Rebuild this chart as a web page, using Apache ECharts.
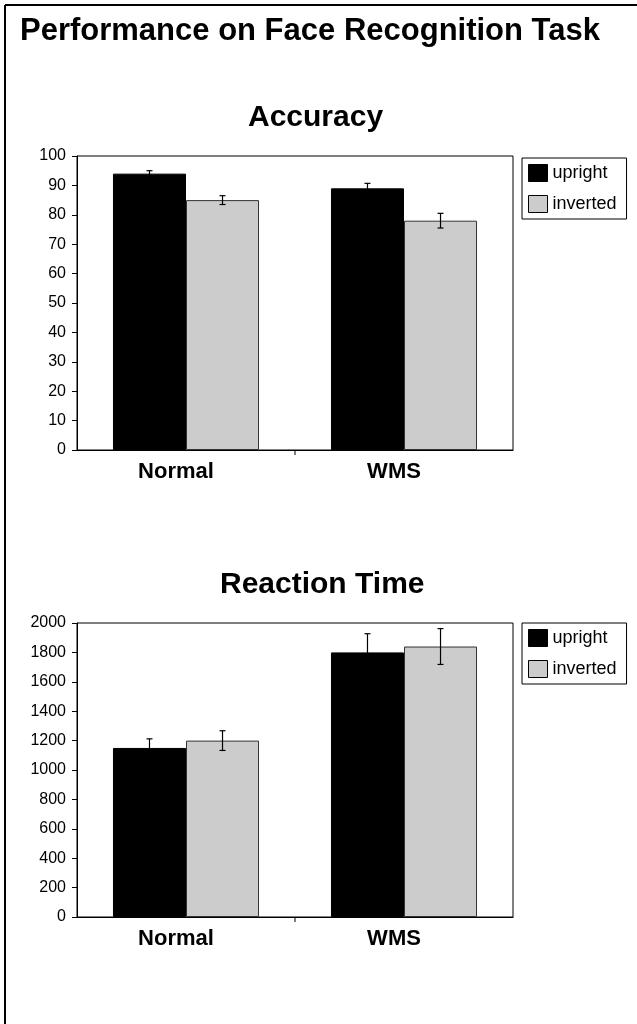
<!DOCTYPE html>
<html>
<head>
<meta charset="utf-8">
<script src="https://cdn.jsdelivr.net/npm/echarts@6/dist/echarts.min.js"></script>
<style>
html,body{margin:0;padding:0;background:#fff;}
#c{width:637px;height:1024px;}
</style>
</head>
<body>
<div id="c"></div>
<script>
const categories = ['Normal', 'WMS'];
const seriesNames = ['upright', 'inverted'];
const accUpright = [94, 89];
const accInverted = [85, 78];
const accUprightErr = [1.0, 1.7];
const accInvertedErr = [1.5, 2.5];
const rtUpright = [1150, 1800];
const rtInverted = [1200, 1840];
const rtUprightErr = [62, 127];
const rtInvertedErr = [67, 122];
const mainTitle = 'Performance on Face Recognition Task';
const chartTitles = ['Accuracy', 'Reaction Time'];

const FONT = '"Liberation Sans", Arial, Helvetica, sans-serif';
const GAP = 0.33;

function errSeries(name, gridIdx, vals, errs, side) {
  return {
    type: 'custom',
    name: name + ' err',
    xAxisIndex: gridIdx, yAxisIndex: gridIdx,
    z: 10,
    silent: true,
    data: vals.map((v, i) => [i, v, errs[i]]),
    encode: {x: 0, y: 1},
    renderItem: function (params, api) {
      const x = api.value(0), v = api.value(1), e = api.value(2);
      const top = api.coord([x, v + e]);
      const bot = api.coord([x, v - e]);
      const bw = api.size([1, 0])[0] * (1 - GAP) / 2;
      const cx = top[0] + side * bw / 2;
      const st = {stroke: '#000', lineWidth: 1.2};
      const h = 3;
      return {type: 'group', children: [
        {type: 'line', shape: {x1: cx, y1: top[1], x2: cx, y2: bot[1]}, style: st},
        {type: 'line', shape: {x1: cx - h, y1: top[1], x2: cx + h, y2: top[1]}, style: st},
        {type: 'line', shape: {x1: cx - h, y1: bot[1], x2: cx + h, y2: bot[1]}, style: st}
      ]};
    }
  };
}

// tick marks between categories (only interior boundaries, as in the original)
function catTickSeries(gridIdx) {
  return {
    type: 'custom',
    xAxisIndex: gridIdx, yAxisIndex: gridIdx,
    silent: true, z: 10, clip: false,
    data: categories.slice(1).map((c, i) => [i, 0]),
    encode: {x: 0, y: 1},
    renderItem: function (params, api) {
      const i = api.value(0);
      const a = api.coord([i, 0]);
      const b = api.coord([i + 1, 0]);
      const x = (a[0] + b[0]) / 2;
      return {type: 'line', shape: {x1: x, y1: a[1], x2: x, y2: a[1] + 5}, style: {stroke: '#000', lineWidth: 1}};
    }
  };
}

function barSeries(name, gridIdx, vals, isUp) {
  return {
    type: 'bar', name: name,
    xAxisIndex: gridIdx, yAxisIndex: gridIdx,
    data: vals,
    barGap: '0%', barCategoryGap: (GAP * 100) + '%',
    itemStyle: isUp ? {color: '#000', borderColor: '#000', borderWidth: 1}
                    : {color: '#cccccc', borderColor: '#333', borderWidth: 1},
    silent: true
  };
}

function xAx(gi) {
  return {
    type: 'category', gridIndex: gi, data: categories,
    axisLine: {lineStyle: {color: '#000', width: 1}},
    axisTick: {show: false},
    axisLabel: {color: '#000', fontSize: 22, fontWeight: 'bold', fontFamily: FONT, margin: 11, padding: [0, 20, 0, 0]}
  };
}
function yAx(gi, max, interval) {
  return {
    type: 'value', gridIndex: gi, min: 0, max: max, interval: interval,
    splitLine: {show: false},
    axisLine: {show: true, lineStyle: {color: '#000', width: 1}},
    axisTick: {show: true, length: 5, lineStyle: {color: '#000'}},
    axisLabel: {color: '#000', fontSize: 16, fontFamily: FONT, margin: 11, formatter: v => String(v)}
  };
}
function legendAt(top) {
  return {
    orient: 'vertical', left: 522, top: top,
    data: seriesNames,
    backgroundColor: '#fff',
    borderColor: '#000', borderWidth: 1, borderRadius: 0,
    padding: [6, 10, 6, 6],
    itemWidth: 19, itemHeight: 17, itemGap: 13,
    icon: 'rect',
    itemStyle: {borderColor: '#000', borderWidth: 1},
    textStyle: {color: '#000', fontSize: 18, fontFamily: FONT},
    selectedMode: false
  };
}

const chart = echarts.init(document.getElementById('c'), null, {renderer: 'canvas'});
chart.setOption({
  backgroundColor: '#fff',
  animation: false,
  title: [
    {text: mainTitle, left: 20, top: 16, padding: 0, textStyle: {fontSize: 31, fontWeight: 'bold', color: '#000', fontFamily: FONT}},
    {text: chartTitles[0], left: 248, top: 103, padding: 0, textStyle: {fontSize: 30, fontWeight: 'bold', color: '#000', fontFamily: FONT}},
    {text: chartTitles[1], left: 220, top: 570, padding: 0, textStyle: {fontSize: 30, fontWeight: 'bold', color: '#000', fontFamily: FONT}}
  ],
  legend: [legendAt(158), legendAt(623)],
  grid: [
    {left: 77, top: 156, width: 436, height: 294, show: true, borderColor: '#000', borderWidth: 1, backgroundColor: '#fff'},
    {left: 77, top: 623, width: 436, height: 294, show: true, borderColor: '#000', borderWidth: 1, backgroundColor: '#fff'}
  ],
  xAxis: [xAx(0), xAx(1)],
  yAxis: [yAx(0, 100, 10), yAx(1, 2000, 200)],
  graphic: [
    {type: 'line', shape: {x1: 5, y1: 5, x2: 640, y2: 5}, style: {stroke: '#000', lineWidth: 2}},
    {type: 'line', shape: {x1: 5, y1: 5, x2: 5, y2: 1030}, style: {stroke: '#000', lineWidth: 2}}
  ],
  series: [
    barSeries(seriesNames[0], 0, accUpright, true),
    barSeries(seriesNames[1], 0, accInverted, false),
    errSeries(seriesNames[0], 0, accUpright, accUprightErr, -1),
    errSeries(seriesNames[1], 0, accInverted, accInvertedErr, 1),
    catTickSeries(0),
    barSeries(seriesNames[0], 1, rtUpright, true),
    barSeries(seriesNames[1], 1, rtInverted, false),
    errSeries(seriesNames[0], 1, rtUpright, rtUprightErr, -1),
    errSeries(seriesNames[1], 1, rtInverted, rtInvertedErr, 1),
    catTickSeries(1)
  ]
});
</script>
</body>
</html>
